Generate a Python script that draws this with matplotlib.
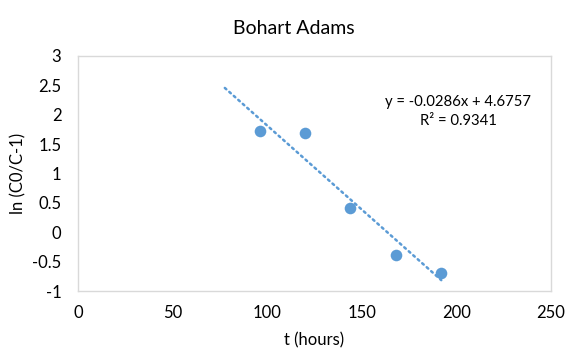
import matplotlib
matplotlib.use("Agg")
import matplotlib.pyplot as plt
import numpy as np

# data
t_hours = [96, 120, 144, 168, 192]
ln_ratio = [1.72, 1.69, 0.42, -0.38, -0.70]

# Excel linear trendline shown on the chart
slope = -0.0286
intercept = 4.6757
trend_x = [77.6, 192]
x_ticks = [0, 50, 100, 150, 200, 250]
y_ticks = [-1, -0.5, 0, 0.5, 1, 1.5, 2, 2.5, 3]

plt.rcParams["font.family"] = ["Lato", "DejaVu Sans"]
blue = "#5B9BD5"

W, H = 566, 349
fig = plt.figure(figsize=(W / 100, H / 100), dpi=100)
ax = fig.add_axes([78 / W, 1 - 291 / H, (551 - 78) / W, (291 - 56) / H])

tx = np.array(trend_x)
ax.plot(tx, slope * tx + intercept, color=blue, linewidth=1.8,
        linestyle=(0, (0.8, 1.6)), dash_capstyle="round", zorder=2)
ax.scatter(t_hours, ln_ratio, s=70, color=blue, zorder=3, linewidths=0)

ax.set_xlim(0, 250)
ax.set_ylim(-1, 3)
ax.set_xticks(x_ticks)
ax.set_yticks(y_ticks)
ax.set_yticklabels([f"{v:g}" for v in y_ticks])
ax.tick_params(length=0, labelsize=12)
ax.tick_params(axis="y", pad=12)
ax.tick_params(axis="x", pad=10)
for s in ax.spines.values():
    s.set_color("#D9D9D9")
    s.set_linewidth(1)

# axis labels and title placed where the reference has them
fig.text(314 / W, 1 - 340 / H, "t (hours)", ha="center", va="center", fontsize=12)
fig.text(18 / W, 1 - 173 / H, "ln (C0/C-1)", ha="center", va="center",
         rotation=90, fontsize=12)
fig.text(294 / W, 1 - 28 / H, "Bohart Adams", ha="center", va="center", fontsize=14)

ax.text(201, 2.05, "y = -0.0286x + 4.6757\nR² = 0.9341", ha="center", va="center",
        fontsize=10.7, linespacing=1.45)

fig.savefig("out.png", dpi=100)
plt.close(fig)
